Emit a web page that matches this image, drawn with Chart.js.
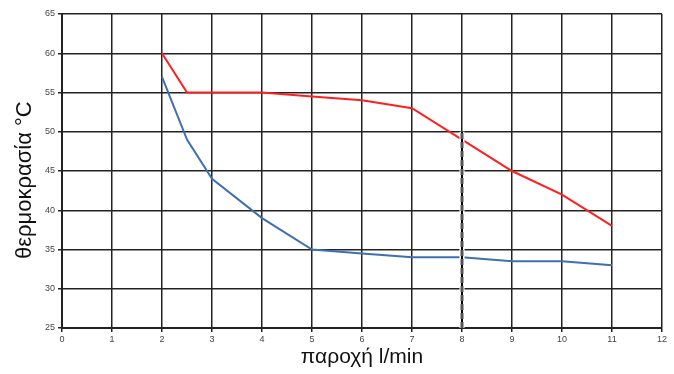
<!DOCTYPE html>
<html>
<head>
<meta charset="utf-8">
<script src="https://cdn.jsdelivr.net/npm/chart.js@4"></script>
<style>
  html, body { margin: 0; padding: 0; background: #fff; }
  #wrap { width: 674px; height: 374px; }
</style>
</head>
<body>
<div id="wrap"><canvas id="chart" width="674" height="374"></canvas></div>
<script>
// flow in l/min
var redX = [2, 2.5, 4, 5, 6, 7, 8, 9, 10, 11]
var redY = [60, 55, 55, 54.5, 54, 53, 49, 45, 42, 38]
var blueX = [2, 2.5, 3, 4, 5, 6, 7, 8, 9, 10, 11]
var blueY = [57, 49, 44, 39, 35, 34.5, 34, 34, 33.5, 33.5, 33]
// vertical marker at 8 l/min
var markX = [8, 8]
var markY = [25, 50]

function toPoints(xs, ys) {
  return xs.map((x, i) => ({ x: x, y: ys[i] }))
}

Chart.defaults.font.family = "'Liberation Sans', Arial, sans-serif"
Chart.defaults.color = "#333"

new Chart(document.getElementById("chart"), {
  type: 'scatter',
  data: {
    datasets: [
      {
        data: toPoints(redX, redY),
        borderColor: "#ff1f1f",
        borderWidth: 2,
        showLine: true,
        pointRadius: 0,
        order: 3
      },
      {
        data: toPoints(blueX, blueY),
        borderColor: "#3f6fb0",
        borderWidth: 2,
        showLine: true,
        pointRadius: 0,
        order: 4
      },
      {
        data: toPoints(markX, markY),
        borderColor: "#ffffff",
        borderWidth: 5,
        showLine: true,
        pointRadius: 0,
        order: 2
      },
      {
        data: toPoints(markX, markY),
        borderColor: "#000000",
        borderWidth: 2,
        showLine: true,
        pointRadius: 0,
        order: 1
      },
      {
        data: toPoints(markX, markY),
        borderColor: "#555555",
        borderWidth: 3,
        borderDash: [6, 3],
        showLine: true,
        pointRadius: 0,
        order: 0
      }
    ]
  },
  options: {
    responsive: false,
    animation: false,
    layout: { padding: { top: 14, right: 12, left: 0, bottom: 0 } },
    plugins: {
      legend: { display: false },
      tooltip: { enabled: false }
    },
    scales: {
      x: {
        type: 'linear',
        min: 0,
        max: 12,
        ticks: { stepSize: 1, font: { size: 9 }, color: "#444", padding: 2 },
        grid: { color: "#222", lineWidth: 1.5, tickLength: 4 },
        border: { color: "#222", width: 2 },
        title: { display: true, text: "παροχή l/min", font: { size: 21 }, color: "#111", padding: { top: 3 } },
        afterFit: function(axis) { axis.height = 46 }
      },
      y: {
        min: 25,
        max: 65,
        ticks: { stepSize: 5, font: { size: 9 }, color: "#444", padding: 3 },
        grid: { color: "#222", lineWidth: 1.5, tickLength: 4 },
        border: { color: "#222", width: 2 },
        title: { display: true, text: "θερμοκρασία °C\u00a0\u00a0\u00a0", font: { size: 22 }, color: "#111", padding: { top: 12 } },
        afterFit: function(axis) { axis.width = 62 }
      }
    }
  }
});
</script>
</body>
</html>
